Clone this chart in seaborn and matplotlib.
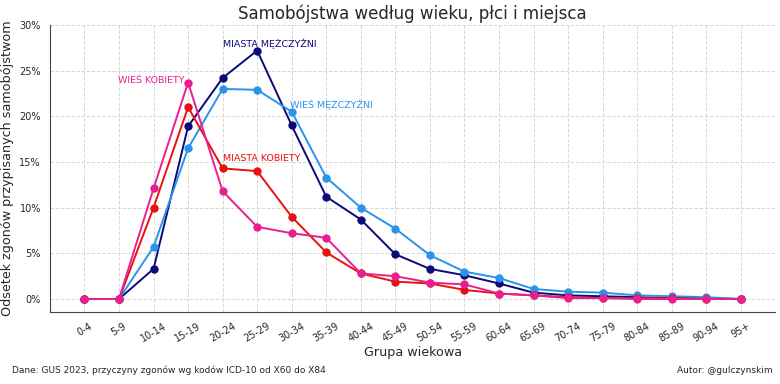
import matplotlib
matplotlib.use("Agg")
import matplotlib.pyplot as plt
import seaborn as sns
import pandas as pd
from matplotlib.ticker import PercentFormatter

# --- Dane ---
grupy = ["0-4", "5-9", "10-14", "15-19", "20-24", "25-29", "30-34", "35-39",
         "40-44", "45-49", "50-54", "55-59", "60-64", "65-69", "70-74",
         "75-79", "80-84", "85-89", "90-94", "95+"]

miasta_mezczyzni = [0, 0, 3.3, 18.9, 24.2, 27.2, 19.0, 11.2, 8.7, 4.9, 3.3, 2.6,
                    1.7, 0.7, 0.4, 0.3, 0.2, 0.1, 0.1, 0.0]
wies_mezczyzni = [0, 0, 5.7, 16.5, 23.0, 22.9, 20.5, 13.3, 10.0, 7.7, 4.8, 3.0,
                  2.3, 1.1, 0.8, 0.7, 0.4, 0.3, 0.2, 0.0]
miasta_kobiety = [0, 0, 10.0, 21.0, 14.3, 14.0, 9.0, 5.1, 2.8, 1.9, 1.7, 1.0,
                  0.6, 0.4, 0.2, 0.1, 0.1, 0.1, 0.0, 0.0]
wies_kobiety = [0, 0, 12.1, 23.7, 11.8, 7.9, 7.2, 6.7, 2.8, 2.5, 1.8, 1.6,
                0.6, 0.4, 0.1, 0.1, 0.0, 0.0, 0.0, 0.0]

serie = {
    "MIASTA MĘŻCZYŹNI": miasta_mezczyzni,
    "WIEŚ MĘŻCZYŹNI": wies_mezczyzni,
    "MIASTA KOBIETY": miasta_kobiety,
    "WIEŚ KOBIETY": wies_kobiety,
}
kolory = {
    "MIASTA MĘŻCZYŹNI": "#0a0a78",
    "WIEŚ MĘŻCZYŹNI": "#2a93ea",
    "MIASTA KOBIETY": "#e81010",
    "WIEŚ KOBIETY": "#e8208f",
}

df = pd.DataFrame(
    [(g, i, nazwa, v) for nazwa, vals in serie.items()
     for i, (g, v) in enumerate(zip(grupy, vals))],
    columns=["grupa", "idx", "seria", "wartosc"],
)

sns.set_style("white")
plt.rcParams['font.family'] = ['DejaVu Sans']

fig, ax = plt.subplots(figsize=(7.8, 3.84), dpi=100)
fig.subplots_adjust(left=0.064, right=0.994, top=0.935, bottom=0.188)

sns.lineplot(data=df, x="idx", y="wartosc", hue="seria", palette=kolory,
             marker="o", markersize=6, markeredgewidth=0, linewidth=1.4,
             legend=False, ax=ax)

# Etykiety serii
ax.text(4, 27.6, "MIASTA MĘŻCZYŹNI", color=kolory["MIASTA MĘŻCZYŹNI"], fontsize=6.8, ha="left")
ax.text(5.95, 20.9, "WIEŚ MĘŻCZYŹNI", color=kolory["WIEŚ MĘŻCZYŹNI"], fontsize=6.8, ha="left")
ax.text(4, 15.1, "MIASTA KOBIETY", color=kolory["MIASTA KOBIETY"], fontsize=6.8, ha="left")
ax.text(2.9, 23.6, "WIEŚ KOBIETY", color=kolory["WIEŚ KOBIETY"], fontsize=6.8, ha="right")

ax.set_xticks(range(len(grupy)))
ax.set_xticklabels(grupy, rotation=30, fontsize=7)
ax.set_xlim(-1, 20)
ax.set_ylim(-1.4, 30)
ax.set_yticks([0, 5, 10, 15, 20, 25, 30])
ax.yaxis.set_major_formatter(PercentFormatter(decimals=0))
ax.tick_params(axis='y', labelsize=7)
ax.tick_params(axis='both', length=3, color='#444444')

ax.grid(True, linestyle='--', color='#d8d8d8', linewidth=0.7)
ax.set_title("Samobójstwa według wieku, płci i miejsca", fontsize=12, pad=4)
ax.set_xlabel("Grupa wiekowa", fontsize=9.2, labelpad=2)
ax.set_ylabel("Odsetek zgonów przypisanych samobójstwom", fontsize=9.2)

sns.despine(ax=ax)
for s in ["left", "bottom"]:
    ax.spines[s].set_color("#444444")

fig.text(0.015, 0.028, "Dane: GUS 2023, przyczyny zgonów wg kodów ICD-10 od X60 do X84", fontsize=6.5)
fig.text(0.99, 0.028, "Autor: @gulczynskim", fontsize=6.5, ha="right")

fig.savefig("out.png", dpi=100)
